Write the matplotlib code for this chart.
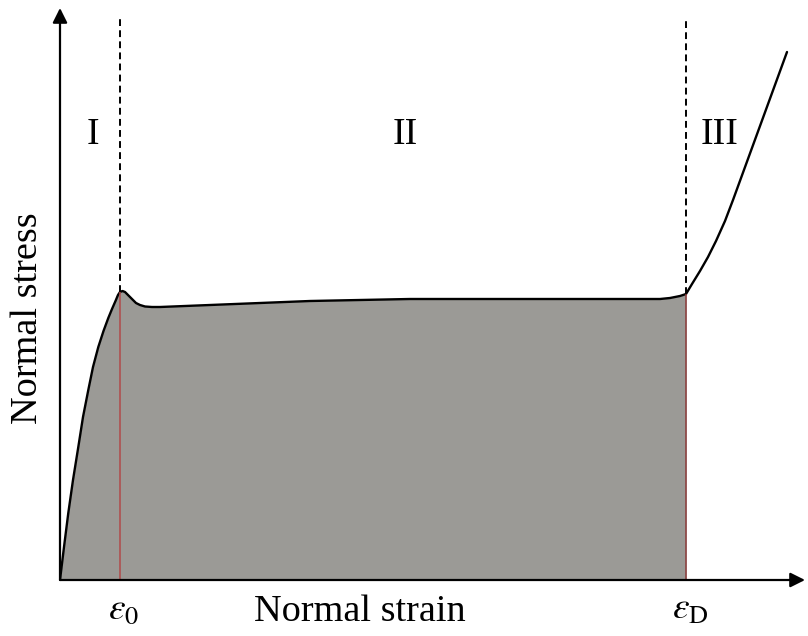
import numpy as np
import matplotlib
matplotlib.use('Agg')
import matplotlib.pyplot as plt

plt.rcParams['font.family'] = 'Liberation Serif'
plt.rcParams['mathtext.fontset'] = 'stix'

# stress-strain curve (arbitrary units)
strain = [0.0, 0.04, 0.083, 0.13, 0.183, 0.23, 0.283, 0.33, 0.383, 0.435,
          0.483, 0.52, 0.555, 0.58, 0.60, 0.625, 0.65, 0.68, 0.72, 0.76,
          0.80, 0.85, 0.92, 1.00, 1.50, 2.00, 2.50, 3.00, 3.50, 4.00, 4.50,
          5.00, 5.50, 5.80, 6.00, 6.10, 6.20, 6.26]
stress = [0.0, 0.33, 0.67, 1.00, 1.33, 1.63, 1.90, 2.13, 2.33, 2.49, 2.62,
          2.71, 2.79, 2.85, 2.88, 2.89, 2.88, 2.85, 2.81, 2.77, 2.75, 2.735,
          2.73, 2.73, 2.75, 2.77, 2.79, 2.80, 2.81, 2.81, 2.81, 2.81, 2.81,
          2.81, 2.81, 2.82, 2.84, 2.86]
# stage III (densification)
strain_III = [6.26, 6.32, 6.40, 6.48, 6.56, 6.65, 6.73, 7.00, 7.27]
stress_III = [2.86, 2.96, 3.09, 3.23, 3.39, 3.59, 3.80, 4.54, 5.28]

eps0 = 0.60
epsD = 6.26
region_labels = ['I', 'II', 'III']
region_x = [0.33, 3.45, 6.60]
region_y = 4.45

fig = plt.figure(figsize=(8.08, 6.36), dpi=100)
ax = fig.add_axes([60 / 808, 56 / 636, 745 / 808, 572 / 636])
ax.set_xlim(0, 7.45)
ax.set_ylim(0, 5.72)
ax.axis('off')

ax.fill_between(strain, stress, 0, color='#9b9a96', lw=0)
ax.plot(strain + strain_III[1:], stress + stress_III[1:], color='k', lw=1.7,
        solid_capstyle='round', solid_joinstyle='round')

# red lines at eps0 and epsD
ax.plot([eps0, eps0], [0, 2.88], color='#b04a4a', lw=1.1)
ax.plot([epsD, epsD], [0, 2.86], color='#8a3a3a', lw=1.1)
# dashed boundaries above the curve
ax.plot([eps0, eps0], [2.88, 5.62], color='k', lw=1.4, ls=(0, (3.5, 2.2)))
ax.plot([epsD, epsD], [2.86, 5.62], color='k', lw=1.4, ls=(0, (3.5, 2.2)))

# axes with arrows
arrow = dict(arrowstyle='-|>', mutation_scale=22, lw=1.6, color='k',
             shrinkA=0, shrinkB=0)
ax.annotate('', xy=(7.45, 0), xytext=(0, 0), arrowprops=arrow,
            annotation_clip=False)
ax.annotate('', xy=(0, 5.72), xytext=(0, 0), arrowprops=arrow,
            annotation_clip=False)

for lab, x in zip(region_labels, region_x):
    ax.text(x, region_y, lab, fontsize=27, ha='center', va='center')

ax.text(eps0 + 0.04, -0.30, r'$\varepsilon_0$', fontsize=27, ha='center',
        va='center')
ax.text(epsD + 0.04, -0.30, r'$\varepsilon_\mathrm{D}$', fontsize=27,
        ha='center', va='center')

fig.text(360 / 808, 1 - 612 / 636, 'Normal strain', fontsize=27.5,
         ha='center', va='center')
fig.text(28 / 808, 1 - 318 / 636, 'Normal stress', fontsize=27.5,
         ha='center', va='center', rotation=90)

fig.savefig('out.png', dpi=100)
